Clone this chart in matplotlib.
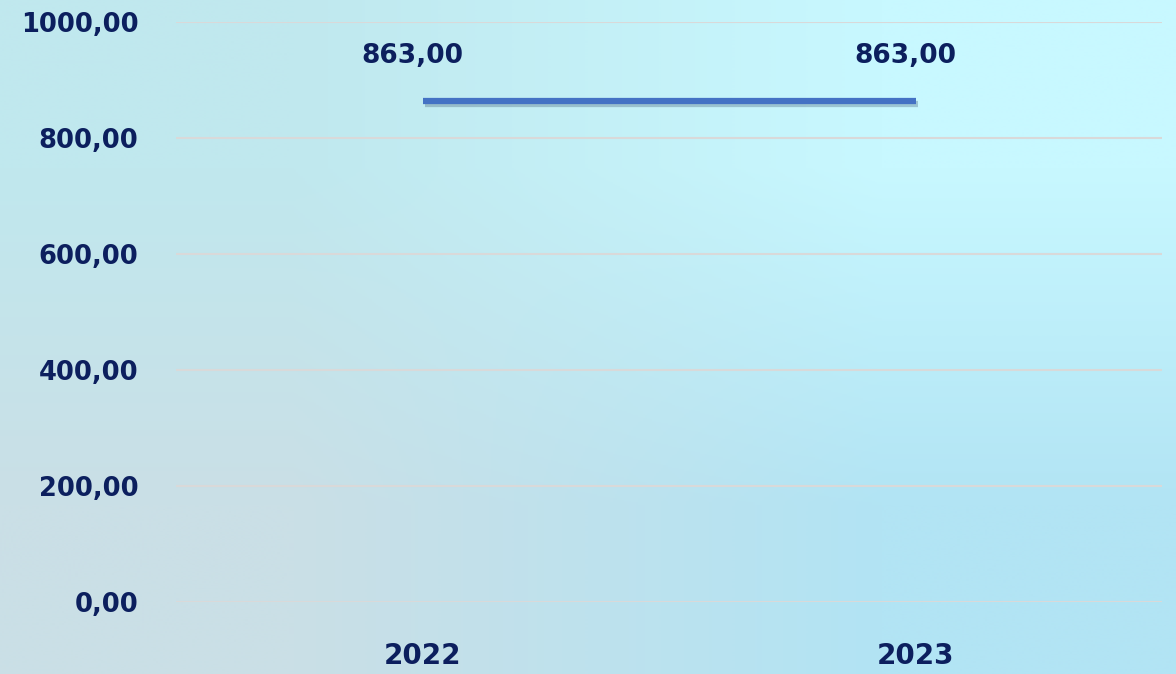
import matplotlib.pyplot as plt
import matplotlib.patheffects as pe
import numpy as np

years = ["2022", "2023"]
values = [863.0, 863.0]
yticks = [0, 200, 400, 600, 800, 1000]

NAVY = "#0c1f5e"
LINE = "#4472c4"


def fmt(v):
    return f"{v:.2f}".replace(".", ",")


plt.rcParams["font.family"] = ["DejaVu Sans"]

fig = plt.figure(figsize=(11.76, 6.74), dpi=100)

# gradient background
bg = fig.add_axes([0, 0, 1, 1], zorder=-10)
corners = np.array([
    [[192, 232, 238], [200, 248, 255]],
    [[202, 223, 230], [178, 228, 244]],
]) / 255.0
bg.imshow(corners, extent=[0, 1, 0, 1], aspect="auto", interpolation="bilinear")
bg.axis("off")

ax = fig.add_axes([176 / 1176, 1 - 602 / 674, 986 / 1176, 580 / 674])
ax.patch.set_alpha(0)
x = np.arange(len(years))
ax.plot(x, values, color=LINE, lw=4.5, solid_capstyle="butt",
        path_effects=[pe.SimpleLineShadow(offset=(1.5, -2.0), alpha=0.25, shadow_color="#1a3050"),
                      pe.Normal()], zorder=3)

for xi, v in zip(x, values):
    ax.annotate(fmt(v), (xi, v), xytext=(-7, 33), textcoords="offset points",
                ha="center", va="center", fontsize=19, fontweight="bold", color=NAVY)

ax.set_xlim(-0.5, 1.5)
ax.set_ylim(0, 1000)
ax.set_yticks(yticks)
ax.set_yticklabels([fmt(t) for t in yticks])
ax.set_xticks(x)
ax.set_xticklabels(years)
ax.yaxis.grid(True, color="#d9d9d9", lw=1.5)
ax.set_axisbelow(True)
for s in ax.spines.values():
    s.set_visible(False)
ax.tick_params(axis="y", length=0, colors=NAVY, labelsize=18.5, pad=27)
ax.tick_params(axis="x", length=0, colors=NAVY, labelsize=20, pad=29)
for lbl in ax.get_xticklabels() + ax.get_yticklabels():
    lbl.set_fontweight("bold")

fig.savefig("out.png", dpi=100)
